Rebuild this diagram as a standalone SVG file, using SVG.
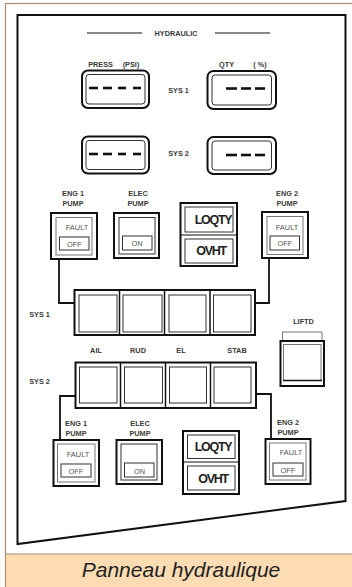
<svg xmlns="http://www.w3.org/2000/svg" width="352" height="587" viewBox="0 0 352 587">
<style>
.lbl{font-family:"Liberation Sans",Arial,sans-serif;font-weight:bold;font-size:7.3px;fill:#3a3a3a;text-anchor:middle}
.lt{font-family:"Liberation Sans",Arial,sans-serif;font-size:7.4px;fill:#555;text-anchor:middle}
.big{font-family:"Liberation Sans",Arial,sans-serif;font-weight:bold;font-size:12.5px;fill:#222;text-anchor:middle;letter-spacing:-1.3px}
.frame{fill:none;stroke:#111;stroke-width:2}
.thin{fill:none;stroke:#333;stroke-width:1}
.gray{fill:none;stroke:#777;stroke-width:1}
.dash{stroke:#111;stroke-width:2.6}
.conn{fill:none;stroke:#111;stroke-width:1.8}
</style>
<rect x="0" y="0" width="352" height="587" fill="#fff"/>
<rect x="5.5" y="3.5" width="350" height="590" fill="none" stroke="#b08a6e" stroke-width="1.2"/>
<rect x="6" y="554" width="346" height="33" fill="#fddcb3"/>
<line x1="6" y1="554" x2="352" y2="554" stroke="#b08a6e" stroke-width="1.2"/>
<text x="181" y="577" font-family="'Liberation Sans',Arial,sans-serif" font-style="italic" font-size="21" fill="#222" text-anchor="middle">Panneau hydraulique</text>

<g id="panel">
<path d="M17.5,544 L17.5,15 L345.5,15 L345.5,501 Z" class="frame"/>
<line x1="87" y1="33" x2="142" y2="33" stroke="#111" stroke-width="1.2"/>
<line x1="215" y1="33" x2="270" y2="33" stroke="#111" stroke-width="1.2"/>
<text class="lbl" x="176" y="36">HYDRAULIC</text>
</g>

<g id="connectors">
<polyline class="conn" points="59,259 59,303 75,303"/>
<polyline class="conn" points="269,258 269,303 255,303"/>
<polyline class="conn" points="60,440 60,396 76,396"/>
<polyline class="conn" points="271,439 271,394 256,394"/>
</g>

<g id="press-labels">
<text class="lbl" x="100.5" y="67">PRESS</text>
<text class="lbl" x="131" y="67">(PSI)</text>
<text class="lbl" x="226.5" y="67">QTY</text>
<text class="lbl" x="260" y="67">( %)</text>
<text class="lbl" x="178.5" y="93">SYS 1</text>
<text class="lbl" x="178.5" y="156">SYS 2</text>
</g>

<g id="press-sys1">
<rect class="frame" x="82" y="70.5" width="67" height="37.5" rx="6"/>
<rect class="thin" x="86" y="74.5" width="59" height="29.5" rx="3"/>
<line class="dash" x1="89" y1="88" x2="98" y2="88"/><line class="dash" x1="103" y1="88" x2="112" y2="88"/>
<line class="dash" x1="118" y1="88" x2="126" y2="88"/><line class="dash" x1="133" y1="88" x2="141" y2="88"/>
</g>
<g id="qty-sys1">
<rect class="frame" x="207.5" y="71" width="68.5" height="38" rx="6"/>
<rect class="thin" x="212" y="75" width="59.5" height="30" rx="3"/>
<line class="dash" x1="226" y1="88.5" x2="237" y2="88.5"/><line class="dash" x1="241" y1="88.5" x2="251" y2="88.5"/>
<line class="dash" x1="255" y1="88.5" x2="265" y2="88.5"/>
</g>
<g id="press-sys2">
<rect class="frame" x="82" y="136.5" width="67" height="37" rx="6"/>
<rect class="thin" x="86" y="140.5" width="59" height="29" rx="3"/>
<line class="dash" x1="89" y1="154" x2="98" y2="154"/><line class="dash" x1="103" y1="154" x2="112" y2="154"/>
<line class="dash" x1="118" y1="154" x2="126" y2="154"/><line class="dash" x1="133" y1="154" x2="141" y2="154"/>
</g>
<g id="qty-sys2">
<rect class="frame" x="207.5" y="137" width="68.5" height="37" rx="6"/>
<rect class="thin" x="212" y="141" width="59.5" height="29" rx="3"/>
<line class="dash" x1="226" y1="155" x2="237" y2="155"/><line class="dash" x1="241" y1="155" x2="251" y2="155"/>
<line class="dash" x1="255" y1="155" x2="265" y2="155"/>
</g>

<g id="eng1-pump-top">
<text class="lbl" x="73" y="196">ENG 1</text>
<text class="lbl" x="73" y="206">PUMP</text>
<rect class="frame" x="51" y="213" width="46" height="46"/>
<rect class="gray" x="56" y="217.5" width="36" height="37.5"/>
<text class="lt" x="77" y="230">FAULT</text>
<rect class="thin" x="59.5" y="237" width="29.5" height="13"/>
<text class="lt" x="74.5" y="247">OFF</text>
</g>
<g id="elec-pump-top">
<text class="lbl" x="138" y="196">ELEC</text>
<text class="lbl" x="138" y="206">PUMP</text>
<rect class="frame" x="114" y="213" width="45" height="45"/>
<rect class="thin" x="119" y="217.5" width="36" height="36.5"/>
<rect class="thin" x="122.5" y="236" width="29.5" height="14"/>
<text class="lt" x="137" y="246">ON</text>
</g>
<g id="loqty-top">
<rect class="frame" x="180.5" y="203" width="56.5" height="63"/>
<line x1="181" y1="235" x2="237" y2="235" stroke="#111" stroke-width="1.2"/>
<rect class="thin" x="185" y="207" width="48" height="25"/>
<text class="big" x="213" y="224">LOQTY</text>
<rect class="thin" x="185" y="239" width="48" height="24"/>
<text class="big" x="211" y="255">OVHT</text>
</g>
<g id="eng2-pump-top">
<text class="lbl" x="287" y="196">ENG 2</text>
<text class="lbl" x="287" y="206">PUMP</text>
<rect class="frame" x="262" y="212" width="46" height="46"/>
<rect class="gray" x="267" y="216.5" width="36" height="38"/>
<text class="lt" x="287" y="230">FAULT</text>
<rect class="thin" x="270" y="236" width="29.5" height="14"/>
<text class="lt" x="285" y="246">OFF</text>
</g>

<g id="sys1-strip">
<text class="lbl" x="39.5" y="317">SYS 1</text>
<rect class="frame" x="74.5" y="290" width="180.5" height="45"/>
<line x1="119.5" y1="290" x2="119.5" y2="335" stroke="#111" stroke-width="1.5"/>
<line x1="164.5" y1="290" x2="164.5" y2="335" stroke="#111" stroke-width="1.5"/>
<line x1="210" y1="290" x2="210" y2="335" stroke="#111" stroke-width="1.5"/>
<rect class="thin" x="79" y="295" width="38" height="37"/>
<rect class="thin" x="123" y="295" width="39" height="37"/>
<rect class="thin" x="169" y="295" width="37" height="37"/>
<rect class="thin" x="213.5" y="295" width="37.5" height="37"/>
</g>

<g id="liftd">
<text class="lbl" x="303.5" y="324">LIFTD</text>
<rect class="gray" x="282.5" y="332" width="39.5" height="9"/>
<rect class="frame" x="280.5" y="341" width="43.5" height="45"/>
<rect class="gray" x="283.5" y="344.5" width="37.5" height="36"/>
<line x1="283" y1="380.5" x2="322" y2="380.5" stroke="#111" stroke-width="1.5"/>
</g>

<g id="surface-labels">
<text class="lbl" x="96" y="353">AIL</text>
<text class="lbl" x="138" y="353">RUD</text>
<text class="lbl" x="181" y="353">EL</text>
<text class="lbl" x="237" y="353">STAB</text>
</g>

<g id="sys2-strip">
<text class="lbl" x="39.5" y="384">SYS 2</text>
<rect class="frame" x="75.5" y="362.5" width="180.5" height="45.5"/>
<line x1="120.5" y1="362.5" x2="120.5" y2="408" stroke="#111" stroke-width="1.5"/>
<line x1="165.5" y1="362.5" x2="165.5" y2="408" stroke="#111" stroke-width="1.5"/>
<line x1="210.5" y1="362.5" x2="210.5" y2="408" stroke="#111" stroke-width="1.5"/>
<rect class="thin" x="79.5" y="367" width="37.5" height="36"/>
<rect class="thin" x="124.5" y="367" width="38" height="36"/>
<rect class="thin" x="169.5" y="367" width="37" height="36"/>
<rect class="thin" x="214" y="367" width="37" height="36"/>
</g>

<g id="eng1-pump-bottom">
<text class="lbl" x="76" y="426">ENG 1</text>
<text class="lbl" x="76" y="436">PUMP</text>
<rect class="frame" x="53.5" y="440" width="45.5" height="46"/>
<rect class="gray" x="57.5" y="444" width="37.5" height="38"/>
<text class="lt" x="78" y="457">FAULT</text>
<rect class="thin" x="61" y="464" width="30" height="13"/>
<text class="lt" x="76" y="473.5">OFF</text>
</g>
<g id="elec-pump-bottom">
<text class="lbl" x="140" y="426">ELEC</text>
<text class="lbl" x="140" y="436">PUMP</text>
<rect class="frame" x="116.5" y="440" width="45.5" height="44"/>
<rect class="thin" x="121" y="444" width="36" height="36"/>
<rect class="thin" x="124.5" y="463" width="29.5" height="14"/>
<text class="lt" x="139.5" y="473.5">ON</text>
</g>
<g id="loqty-bottom">
<rect class="frame" x="183" y="431" width="56" height="63"/>
<line x1="183" y1="462" x2="239" y2="462" stroke="#111" stroke-width="1.2"/>
<rect class="thin" x="187.5" y="435" width="47.5" height="23.5"/>
<text class="big" x="213" y="451">LOQTY</text>
<rect class="thin" x="187.5" y="466" width="47.5" height="24"/>
<text class="big" x="213" y="483">OVHT</text>
</g>
<g id="eng2-pump-bottom">
<text class="lbl" x="288" y="425">ENG 2</text>
<text class="lbl" x="288" y="435">PUMP</text>
<rect class="frame" x="265.5" y="439" width="45" height="45"/>
<rect class="gray" x="269.5" y="443" width="36.5" height="37"/>
<text class="lt" x="291" y="455">FAULT</text>
<rect class="thin" x="273" y="463" width="30" height="13"/>
<text class="lt" x="288" y="472.5">OFF</text>
</g>
</svg>
